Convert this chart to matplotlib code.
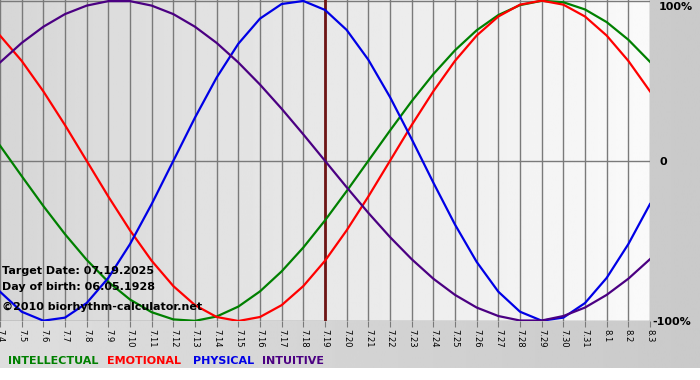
import numpy as np
import matplotlib.pyplot as plt

# Dni na osi X (od 7.4 do 8.3)
dni = ["7.4", "7.5", "7.6", "7.7", "7.8", "7.9", "7.10", "7.11", "7.12", "7.13",
       "7.14", "7.15", "7.16", "7.17", "7.18", "7.19", "7.20", "7.21", "7.22", "7.23",
       "7.24", "7.25", "7.26", "7.27", "7.28", "7.29", "7.30", "7.31", "8.1", "8.2", "8.3"]

# Wartości cykli w procentach, odczytane dzień po dniu
intelektualny = [9.5, -9.5, -28.2, -45.8, -61.8, -75.6, -86.6, -94.5, -99.0, -99.9,
                 -97.2, -91.0, -81.5, -69.0, -54.1, -37.2, -18.9, 0.0, 18.9, 37.2,
                 54.1, 69.0, 81.5, 91.0, 97.2, 99.9, 99.0, 94.5, 86.6, 75.6, 61.8]
emocjonalny = [78.2, 62.4, 43.4, 22.3, 0.0, -22.3, -43.4, -62.4, -78.2, -90.1,
               -97.5, -100.0, -97.5, -90.1, -78.2, -62.4, -43.4, -22.3, 0.0, 22.3,
               43.4, 62.4, 78.2, 90.1, 97.5, 100.0, 97.5, 90.1, 78.2, 62.4, 43.4]
fizyczny = [-81.7, -94.2, -99.8, -97.9, -88.8, -73.1, -52.0, -27.0, 0.0, 27.0,
            52.0, 73.1, 88.8, 97.9, 99.8, 94.2, 81.7, 63.1, 39.8, 13.6,
            -13.6, -39.8, -63.1, -81.7, -94.2, -99.8, -97.9, -88.8, -73.1, -52.0, -27.0]
intuicyjny = [61.4, 73.6, 83.7, 91.6, 96.9, 99.7, 99.7, 96.9, 91.6, 83.7,
              73.6, 61.4, 47.6, 32.5, 16.5, 0.0, -16.5, -32.5, -47.6, -61.4,
              -73.6, -83.7, -91.6, -96.9, -99.7, -99.7, -96.9, -91.6, -83.7, -73.6, -61.4]

dzien_docelowy = "7.19"

x = np.arange(len(dni))

fig = plt.figure(figsize=(7, 3.8), dpi=100)

# tlo calego obrazka
tlo = fig.add_axes([0, 0, 1, 1])
grad = np.linspace(0.87, 0.79, 256).reshape(1, -1)
tlo.imshow(grad, cmap='gray', vmin=0, vmax=1, aspect='auto', extent=[0, 1, 12/380, 1])
tlo.set_xlim(0, 1)
tlo.set_ylim(0, 1)
tlo.axis('off')

ax = fig.add_axes([0, 59/380, 650/700, 321/380])
ax.set_xlim(0, len(dni) - 1)
ax.set_ylim(-100, 100.4)

# gradient w obszarze wykresu (ciemniej z lewej)
grad2 = np.linspace(0.84, 0.98, 256).reshape(1, -1)
ax.imshow(grad2, cmap='gray', vmin=0, vmax=1, aspect='auto',
          extent=[0, len(dni) - 1, -100, 100.4], zorder=0)

for xi in x:
    ax.axvline(xi, color='#7a7a7a', lw=1.0, zorder=1)
for yi in (-100, 0, 100):
    ax.axhline(yi, color='#7a7a7a', lw=1.0, zorder=1)

idx = dni.index(dzien_docelowy)
ax.axvline(idx, color='#6e1515', lw=2.0, zorder=2)

ax.plot(x, intelektualny, color='#008000', lw=1.6, zorder=3)
ax.plot(x, emocjonalny, color='#ff0000', lw=1.6, zorder=3)
ax.plot(x, fizyczny, color='#0000e6', lw=1.6, zorder=3)
ax.plot(x, intuicyjny, color='#4b0082', lw=1.6, zorder=3)

for s in ax.spines.values():
    s.set_visible(False)
ax.set_xticks(x)
ax.set_xticklabels(dni, rotation=-90, fontsize=6)
ax.tick_params(axis='x', direction='out', length=4.5, color='#7a7a7a', pad=1)
ax.set_yticks([])

# napisy w lewym dolnym rogu
ax.text(0.08, -69, "Target Date: 07.19.2025", fontsize=8, fontweight='bold', va='center', zorder=4)
ax.text(0.08, -79, "Day of birth: 06.05.1928", fontsize=8, fontweight='bold', va='center', zorder=4)
ax.text(0.08, -91.5, "\u00a92010 biorhythm-calculator.net", fontsize=8, fontweight='bold', va='center', zorder=4)

# etykiety procentowe z prawej
fig.text(659/700, 1 - 7/380, "100%", fontsize=8, fontweight='bold', va='center')
fig.text(659/700, 1 - 162/380, "0", fontsize=8, fontweight='bold', va='center')
fig.text(652/700, 1 - 322/380, "-100%", fontsize=8, fontweight='bold', va='center')

# legenda jako kolorowy tekst
ly = 1 - 361/380
fig.text(8/700, ly, "INTELLECTUAL", color='#008000', fontsize=8, fontweight='bold', va='center')
fig.text(107/700, ly, "EMOTIONAL", color='#ff0000', fontsize=8, fontweight='bold', va='center')
fig.text(193/700, ly, "PHYSICAL", color='#0000e6', fontsize=8, fontweight='bold', va='center')
fig.text(262/700, ly, "INTUITIVE", color='#4b0082', fontsize=8, fontweight='bold', va='center')

fig.savefig("out.png", dpi=100)
